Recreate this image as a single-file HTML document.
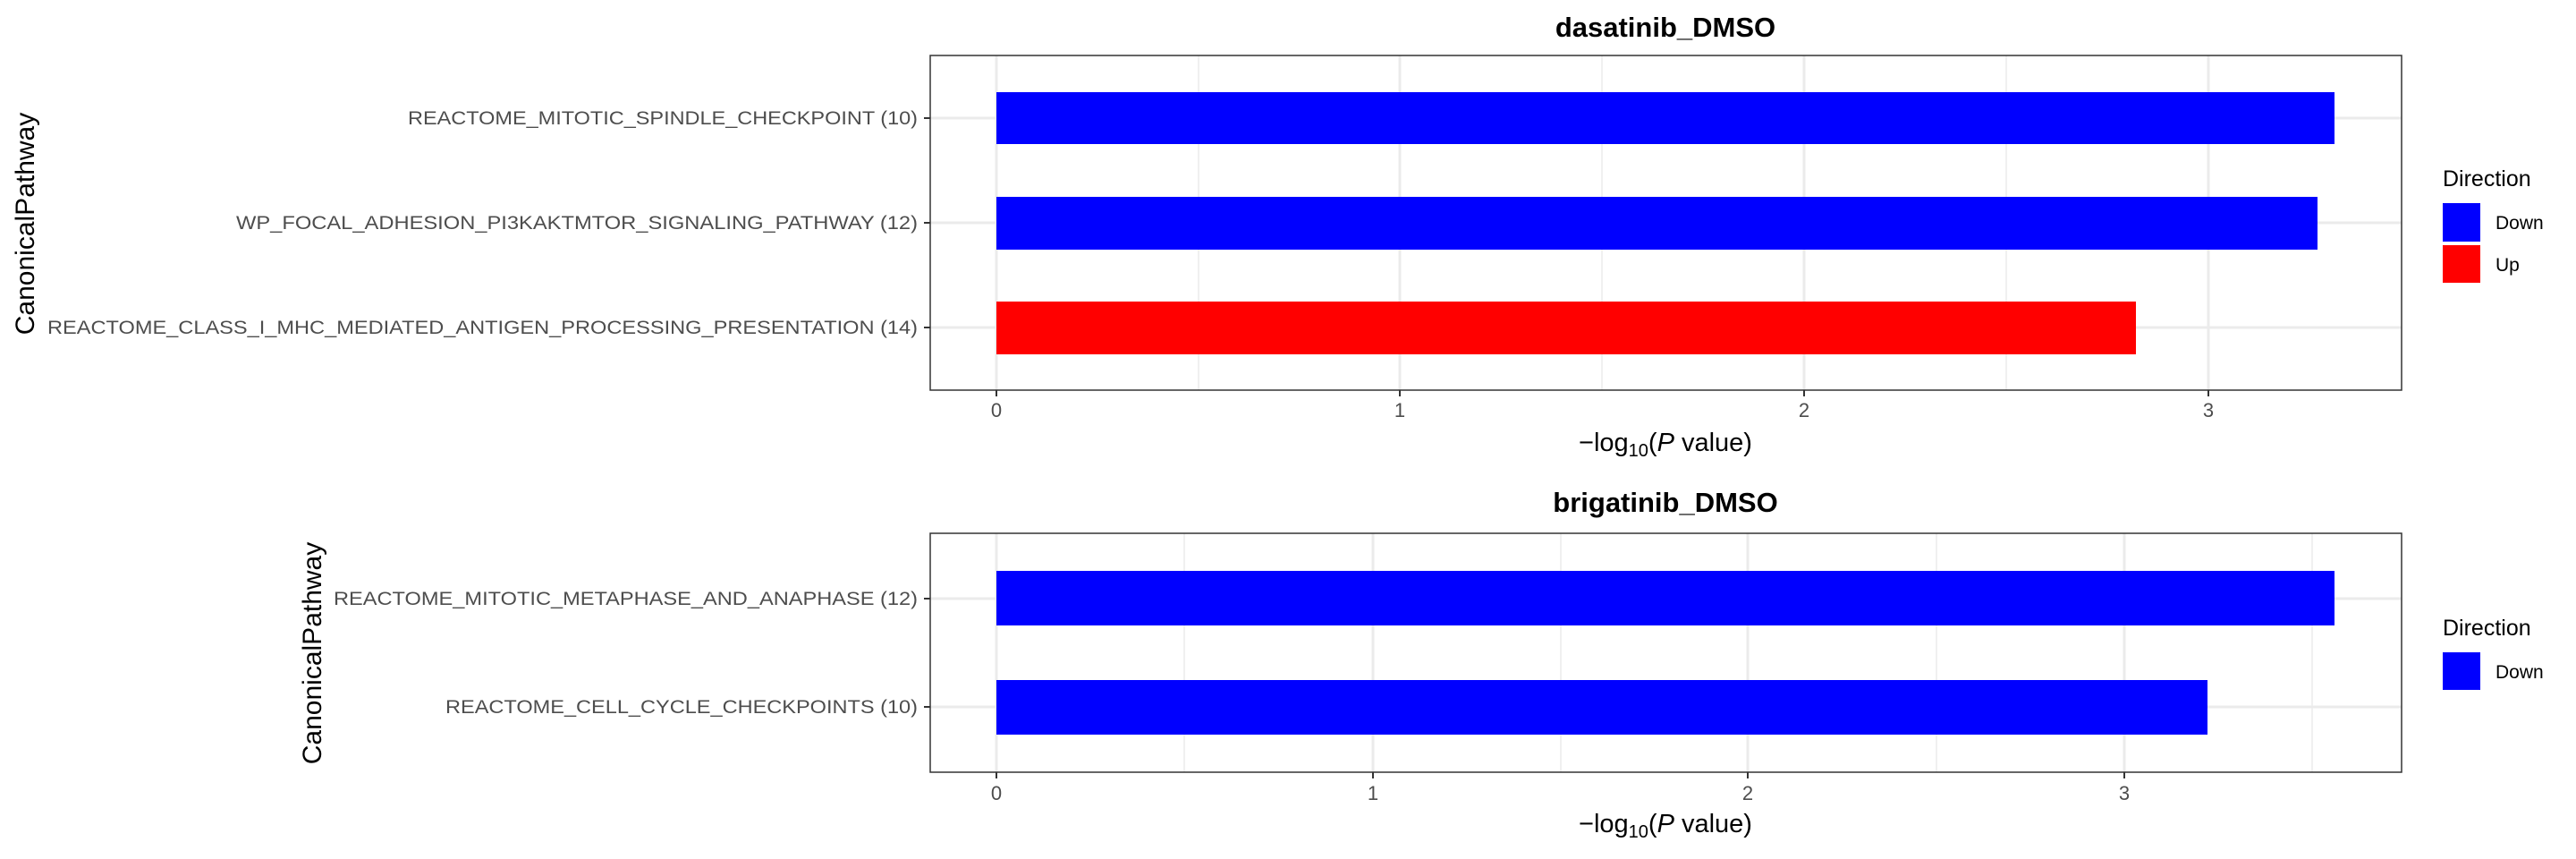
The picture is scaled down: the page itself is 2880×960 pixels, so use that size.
<!DOCTYPE html>
<html><head><meta charset="utf-8"><style>
html,body{margin:0;padding:0;background:#fff;}
svg{display:block;font-family:"Liberation Sans",Arial,sans-serif;}
</style></head><body>
<svg width="2880" height="960" viewBox="0 0 2880 960" xmlns="http://www.w3.org/2000/svg">
<rect width="2880" height="960" fill="#fff"/>
<!-- ===== Top panel ===== -->
<text x="1862" y="41" font-size="31" font-weight="bold" text-anchor="middle">dasatinib_DMSO</text>
<rect x="1040" y="62" width="1645" height="374" fill="#fff"/>
<g stroke="#ebebeb" stroke-width="1.5">
<line x1="1340" y1="62" x2="1340" y2="436"/><line x1="1791" y1="62" x2="1791" y2="436"/><line x1="2243" y1="62" x2="2243" y2="436"/>
</g>
<g stroke="#ebebeb" stroke-width="3">
<line x1="1114" y1="62" x2="1114" y2="436"/><line x1="1565" y1="62" x2="1565" y2="436"/><line x1="2017" y1="62" x2="2017" y2="436"/><line x1="2469" y1="62" x2="2469" y2="436"/>
<line x1="1040" y1="132" x2="2685" y2="132"/><line x1="1040" y1="249" x2="2685" y2="249"/><line x1="1040" y1="366" x2="2685" y2="366"/>
</g>
<rect x="1114" y="103" width="1496" height="58" fill="#0000ff"/>
<rect x="1114" y="220" width="1477" height="59" fill="#0000ff"/>
<rect x="1114" y="337" width="1274" height="59" fill="#ff0000"/>
<rect x="1040" y="62" width="1645" height="374" fill="none" stroke="#333" stroke-width="1.5"/>
<g stroke="#333" stroke-width="2">
<line x1="1033" y1="132" x2="1040" y2="132"/><line x1="1033" y1="249" x2="1040" y2="249"/><line x1="1033" y1="366" x2="1040" y2="366"/>
<line x1="1114" y1="436" x2="1114" y2="443"/><line x1="1565" y1="436" x2="1565" y2="443"/><line x1="2017" y1="436" x2="2017" y2="443"/><line x1="2469" y1="436" x2="2469" y2="443"/>
</g>
<g font-size="21" fill="#4d4d4d" text-anchor="end">
<text x="1026" y="139" textLength="570" lengthAdjust="spacingAndGlyphs">REACTOME_MITOTIC_SPINDLE_CHECKPOINT (10)</text>
<text x="1026" y="256" textLength="762" lengthAdjust="spacingAndGlyphs">WP_FOCAL_ADHESION_PI3KAKTMTOR_SIGNALING_PATHWAY (12)</text>
<text x="1026" y="373" textLength="973" lengthAdjust="spacingAndGlyphs">REACTOME_CLASS_I_MHC_MEDIATED_ANTIGEN_PROCESSING_PRESENTATION (14)</text>
</g>
<g font-size="22" fill="#4d4d4d" text-anchor="middle">
<text x="1114" y="466">0</text><text x="1565" y="466">1</text><text x="2017" y="466">2</text><text x="2469" y="466">3</text>
</g>
<text x="1862" y="504" font-size="29" text-anchor="middle">−log<tspan font-size="20" dy="6">10</tspan><tspan dy="-6">(</tspan><tspan font-style="italic">P</tspan> value)</text>
<text transform="translate(38,250) rotate(-90)" font-size="30" text-anchor="middle">CanonicalPathway</text>
<text x="2731" y="208" font-size="25">Direction</text>
<rect x="2731" y="227" width="42" height="43" fill="#0000ff"/>
<rect x="2731" y="274" width="42" height="42" fill="#ff0000"/>
<text x="2790" y="256" font-size="21">Down</text>
<text x="2790" y="303" font-size="21">Up</text>
<!-- ===== Bottom panel ===== -->
<text x="1862" y="572" font-size="31" font-weight="bold" text-anchor="middle">brigatinib_DMSO</text>
<g stroke="#ebebeb" stroke-width="1.5">
<line x1="1324" y1="596" x2="1324" y2="863"/><line x1="1745" y1="596" x2="1745" y2="863"/><line x1="2165" y1="596" x2="2165" y2="863"/><line x1="2585" y1="596" x2="2585" y2="863"/>
</g>
<g stroke="#ebebeb" stroke-width="3">
<line x1="1114" y1="596" x2="1114" y2="863"/><line x1="1535" y1="596" x2="1535" y2="863"/><line x1="1954" y1="596" x2="1954" y2="863"/><line x1="2375" y1="596" x2="2375" y2="863"/>
<line x1="1040" y1="669" x2="2685" y2="669"/><line x1="1040" y1="790" x2="2685" y2="790"/>
</g>
<rect x="1114" y="638" width="1496" height="61" fill="#0000ff"/>
<rect x="1114" y="760" width="1354" height="61" fill="#0000ff"/>
<rect x="1040" y="596" width="1645" height="267" fill="none" stroke="#333" stroke-width="1.5"/>
<g stroke="#333" stroke-width="2">
<line x1="1033" y1="669" x2="1040" y2="669"/><line x1="1033" y1="790" x2="1040" y2="790"/>
<line x1="1114" y1="863" x2="1114" y2="870"/><line x1="1535" y1="863" x2="1535" y2="870"/><line x1="1954" y1="863" x2="1954" y2="870"/><line x1="2375" y1="863" x2="2375" y2="870"/>
</g>
<g font-size="21" fill="#4d4d4d" text-anchor="end">
<text x="1026" y="676" textLength="653" lengthAdjust="spacingAndGlyphs">REACTOME_MITOTIC_METAPHASE_AND_ANAPHASE (12)</text>
<text x="1026" y="797" textLength="528" lengthAdjust="spacingAndGlyphs">REACTOME_CELL_CYCLE_CHECKPOINTS (10)</text>
</g>
<g font-size="22" fill="#4d4d4d" text-anchor="middle">
<text x="1114" y="894">0</text><text x="1535" y="894">1</text><text x="1954" y="894">2</text><text x="2375" y="894">3</text>
</g>
<text x="1862" y="930" font-size="29" text-anchor="middle">−log<tspan font-size="20" dy="6">10</tspan><tspan dy="-6">(</tspan><tspan font-style="italic">P</tspan> value)</text>
<text transform="translate(359,730) rotate(-90)" font-size="30" text-anchor="middle">CanonicalPathway</text>
<text x="2731" y="710" font-size="25">Direction</text>
<rect x="2731" y="729" width="42" height="42" fill="#0000ff"/>
<text x="2790" y="758" font-size="21">Down</text>
</svg>
</body></html>
